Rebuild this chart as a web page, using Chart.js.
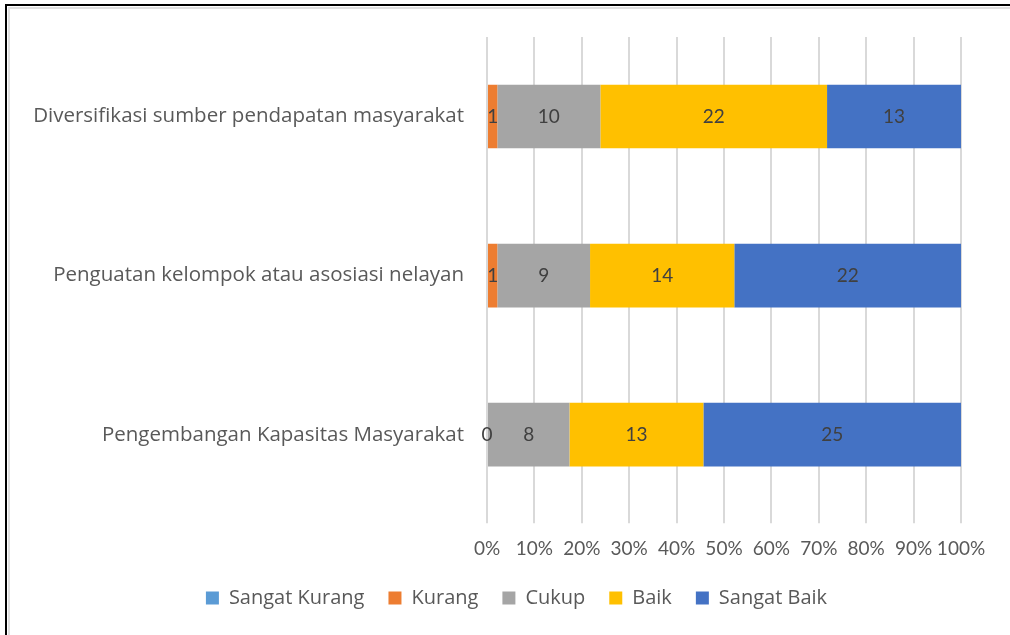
<!DOCTYPE html>
<html>
<head>
<meta charset="utf-8">
<script src="https://cdn.jsdelivr.net/npm/chart.js@4.4.0/dist/chart.umd.min.js"></script>
<style>
  html, body { margin: 0; padding: 0; background: #fff; overflow: hidden; }
  #outer { position: absolute; left: 5px; top: 4px; width: 1020px; height: 640px;
           border-left: 2px solid #000; border-top: 2px solid #000; }
  #inner { position: absolute; left: 1px; top: 1px; width: 1020px; height: 626px;
           border-left: 2px solid #e0e0e0; border-top: 2px solid #e0e0e0; border-bottom: 2px solid #e0e0e0; }
  #wrap { position: absolute; left: 0; top: 0; width: 1010px; height: 635px; }
</style>
</head>
<body>
<div id="outer"><div id="inner"></div></div>
<div id="wrap"><canvas id="barChart"></canvas></div>
<script>
// data (counts of respondents)
const categories = [
    'Diversifikasi sumber pendapatan masyarakat',
    'Penguatan kelompok atau asosiasi nelayan',
    'Pengembangan Kapasitas Masyarakat'
];
const seriesNames = ['Sangat Kurang', 'Kurang', 'Cukup', 'Baik', 'Sangat Baik'];
const sangatKurang = [null, null, null];
const kurang = [1, 1, 0];
const cukup = [10, 9, 8];
const baik = [22, 14, 13];
const sangatBaik = [13, 22, 25];
const xTickValues = [0, 10, 20, 30, 40, 50, 60, 70, 80, 90, 100];

const colors = ['#5B9BD5', '#ED7D31', '#A5A5A5', '#FFC000', '#4472C4'];
const allSeries = [sangatKurang, kurang, cukup, baik, sangatBaik];

// totals per category for the 100% stack
const totals = categories.map((c, i) =>
    allSeries.reduce((s, arr) => s + (arr[i] || 0), 0));

const datasets = allSeries.map((arr, k) => ({
    label: seriesNames[k],
    raw: arr,
    data: arr.map((v, i) => v === null ? null : v / totals[i] * 100),
    backgroundColor: colors[k],
    borderWidth: 0,
    categoryPercentage: 1,
    barPercentage: 0.4,
}));

const FONT = 'Lato, "Open Sans", sans-serif';
const WIDE = '"Open Sans", Lato, sans-serif';

const valueLabels = {
    id: 'valueLabels',
    afterDatasetsDraw(chart) {
        const ctx = chart.ctx;
        ctx.save();
        ctx.font = '19px ' + FONT;
        ctx.fillStyle = '#404040';
        ctx.textAlign = 'center';
        ctx.textBaseline = 'middle';
        chart.data.datasets.forEach((ds, k) => {
            chart.getDatasetMeta(k).data.forEach((el, i) => {
                const v = ds.raw[i];
                if (v === null || v === undefined) return;
                ctx.fillText(String(v), (el.x + el.base) / 2, el.y);
            });
        });
        ctx.restore();
    }
};

// legend is centred on the whole frame, not only left of the plot's right edge
const shiftLegend = {
    id: 'shiftLegend',
    afterLayout(chart) {
        const lg = chart.legend;
        if (!lg) return;
        lg.left += 36;
        lg.right += 36;
        if (lg.adjustHitBoxes) lg.adjustHitBoxes();
    }
};

new Chart(document.getElementById('barChart'), {
    type: 'bar',
    data: { labels: categories, datasets: datasets },
    options: {
        indexAxis: 'y',
        responsive: true,
        maintainAspectRatio: false,
        animation: false,
        layout: { padding: { top: 37, right: 49, bottom: 17, left: 0 } },
        scales: {
            x: {
                stacked: true,
                min: 0,
                max: 100,
                afterBuildTicks(scale) {
                    scale.ticks = xTickValues.map(v => ({ value: v }));
                },
                afterFit(scale) { scale.height -= 10; },
                ticks: {
                    callback: v => v + '%',
                    color: '#595959',
                    font: { family: FONT, size: 19 },
                    padding: 14,
                    maxRotation: 0,
                    autoSkip: false,
                },
                grid: { color: '#d9d9d9', lineWidth: 2, tickLength: 9 },
                border: { display: false },
            },
            y: {
                stacked: true,
                afterFit(scale) { scale.width = 487; },
                ticks: {
                    color: '#595959',
                    font: { family: WIDE, size: 20.5 },
                    padding: 15,
                },
                grid: { display: false },
                border: { display: false },
            },
        },
        plugins: {
            legend: {
                position: 'bottom',
                labels: {
                    color: '#595959',
                    font: { family: WIDE, size: 20 },
                    boxWidth: 13,
                    boxHeight: 13,
                    padding: 24,
                },
            },
            tooltip: { enabled: false },
        },
    },
    plugins: [valueLabels, shiftLegend],
});
</script>
</body>
</html>
